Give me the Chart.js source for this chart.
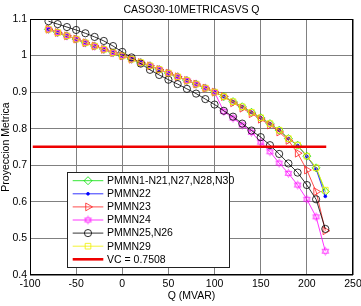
<!DOCTYPE html>
<html><head><meta charset="utf-8">
<script src="https://cdn.jsdelivr.net/npm/chart.js@4.4.0/dist/chart.umd.min.js"></script>
<style>html,body{margin:0;padding:0;background:#fff;}#wrap{width:361px;height:306px;}</style>
</head><body><div id="wrap"><canvas id="c" width="361" height="306"></canvas></div>
<script>
const TITLE = 'CASO30-10METRICASVS Q';
const X_LABEL = 'Q (MVAR)';
const Y_LABEL = 'Proyeccion Metrica';
const X_TICKS = [-100, -50, 0, 50, 100, 150, 200, 250];
const Y_TICKS = [0.4, 0.5, 0.6, 0.7, 0.8, 0.9, 1.0, 1.1];
const Q = [-80,-70,-60,-50,-40,-30,-20,-10,0,10,20,30,40,50,60,70,80,90,100,110,120,130,140,150,160,170,180,190,200,210,220];
const SERIES_NAMES = ['PMMN1-N21,N27,N28,N30','PMMN22','PMMN23','PMMN24','PMMN25,N26','PMMN29'];
const pmmn1 = [1.072,1.063,1.054,1.045,1.035,1.026,1.017,1.008,0.999,0.990,0.981,0.972,0.962,0.952,0.942,0.932,0.922,0.911,0.900,0.888,0.874,0.860,0.845,0.830,0.814,0.796,0.773,0.755,0.725,0.693,0.628];
const pmmn22 = [1.072,1.063,1.054,1.045,1.035,1.026,1.017,1.008,0.999,0.990,0.981,0.972,0.962,0.952,0.942,0.932,0.922,0.911,0.900,0.888,0.874,0.860,0.845,0.830,0.814,0.796,0.773,0.754,0.724,0.690,0.615];
const pmmn23 = [1.072,1.063,1.054,1.045,1.035,1.026,1.017,1.008,0.999,0.990,0.981,0.972,0.962,0.952,0.942,0.932,0.922,0.911,0.900,0.888,0.871,0.856,0.841,0.826,0.810,0.791,0.768,0.733,0.687,0.628,0.521];
const pmmn24 = [1.072,1.063,1.054,1.045,1.035,1.026,1.017,1.008,0.999,0.990,0.981,0.972,0.962,0.952,0.942,0.932,0.922,0.911,0.900,0.847,0.829,0.810,0.790,0.763,0.737,0.706,0.678,0.646,0.607,0.559,0.465];
const pmmn25 = [1.094,1.086,1.078,1.070,1.061,1.051,1.040,1.026,1.010,0.995,0.978,0.961,0.947,0.934,0.922,0.909,0.896,0.881,0.866,0.849,0.833,0.814,0.795,0.777,0.755,0.731,0.705,0.680,0.646,0.607,0.526];
const pmmn29 = [1.072,1.063,1.054,1.045,1.035,1.026,1.017,1.008,0.999,0.990,0.981,0.972,0.962,0.952,0.942,0.932,0.922,0.911,0.900,0.888,0.874,0.860,0.845,0.830,0.814,0.796,0.773,0.755,0.725,0.693,0.632];
const VC_VALUE = 0.7508;
const VC_LABEL = 'VC = 0.7508';
const VC_Q = [-97, 221];

const FONT = 'Liberation Sans, Arial, sans-serif';

// hexagram marker
function hexagram(color){
  const s = 11, cv = document.createElement('canvas');
  cv.width = s; cv.height = s;
  const c = cv.getContext('2d');
  c.strokeStyle = color; c.lineWidth = 0.6;
  const cx = s/2, cy = s/2, r = 4.0;
  for (const off of [-Math.PI/2, Math.PI/2]) {
    c.beginPath();
    for (let k=0;k<3;k++){
      const a = off + k*2*Math.PI/3;
      const px = cx + r*Math.cos(a), py = cy + r*Math.sin(a);
      if(k===0) c.moveTo(px,py); else c.lineTo(px,py);
    }
    c.closePath(); c.stroke();
  }
  return cv;
}
const star = hexagram('#ff00ff');

const pts = v => Q.map((q,i)=>({x:q,y:v[i]}));
const styles = [
  {data:pmmn1, color:'#00e000', pointStyle:'rectRot', radius:4, fill:false, rot:0},
  {data:pmmn22, color:'#0000ff', pointStyle:'circle', radius:1.4, fill:true, rot:0},
  {data:pmmn23, color:'#ff2020', pointStyle:'triangle', radius:4.5, fill:false, rot:90},
  {data:pmmn24, color:'#ff00ff', pointStyle:star, radius:4, fill:false, rot:0},
  {data:pmmn25, color:'#000000', pointStyle:'circle', radius:3.6, fill:false, rot:0},
  {data:pmmn29, color:'#f0f000', pointStyle:'rect', radius:4, fill:false, rot:0},
];
const datasets = styles.map((s,i)=>({
  label: SERIES_NAMES[i],
  data: pts(s.data),
  borderColor: s.color,
  borderWidth: 0.8,
  pointStyle: s.pointStyle,
  pointRadius: s.radius,
  pointRotation: s.rot,
  pointBorderColor: s.color,
  pointBorderWidth: 0.8,
  pointBackgroundColor: s.fill ? s.color : 'rgba(0,0,0,0)',
  order: -i,
  tension: 0
}));
datasets.push({
  label: VC_LABEL,
  data: VC_Q.map(q=>({x:q,y:VC_VALUE})),
  borderColor:'#ee0000', borderWidth:2.6, pointRadius:0, order:-10
});

const decor = {
  id:'decor',
  afterDraw(chart){
    const ctx = chart.ctx, a = chart.chartArea;
    ctx.save();
    // title
    ctx.fillStyle = '#000';
    ctx.font = '10.5px ' + FONT;
    ctx.textAlign = 'center'; ctx.textBaseline = 'middle';
    ctx.fillText(TITLE, (a.left+a.right)/2, 10.5);
    // box
    ctx.strokeStyle = '#000'; ctx.lineWidth = 1;
    ctx.strokeRect(a.left+0.5, a.top+0.5, a.right-a.left-1, a.bottom-a.top-1);
    // legend
    const lx = 67.5, ly = 172.5, lw = 162, lh = 95;
    ctx.fillStyle = '#fff'; ctx.fillRect(lx, ly, lw, lh);
    ctx.strokeStyle = '#222'; ctx.lineWidth = 1; ctx.strokeRect(lx, ly, lw, lh);
    const rows = chart.data.datasets;
    rows.forEach((ds, i) => {
      const y = 180.7 + i*13.1;
      ctx.strokeStyle = ds.borderColor;
      ctx.lineWidth = ds.borderWidth;
      ctx.beginPath(); ctx.moveTo(72.7, y); ctx.lineTo(103.3, y); ctx.stroke();
      if (ds.pointRadius > 0) {
        ctx.save();
        ctx.fillStyle = ds.pointBackgroundColor;
        ctx.strokeStyle = ds.pointBorderColor;
        ctx.lineWidth = ds.pointBorderWidth;
        Chart.helpers.drawPoint(ctx, {
          pointStyle: ds.pointStyle, radius: ds.pointRadius, rotation: ds.pointRotation || 0,
          borderWidth: ds.pointBorderWidth
        }, 88, y);
        ctx.restore();
      }
      ctx.fillStyle = '#000';
      ctx.font = '10.5px ' + FONT;
      ctx.textAlign = 'left'; ctx.textBaseline = 'middle';
      ctx.fillText(ds.label, 107, y + 0.5);
    });
    ctx.restore();
  }
};

new Chart(document.getElementById('c'), {
  type:'line',
  data:{datasets},
  options:{
    responsive:false, animation:false, devicePixelRatio:1,
    layout:{padding:{left:0,right:8,top:19,bottom:0}},
    plugins:{legend:{display:false}, title:{display:false}, tooltip:{enabled:false}},
    scales:{
      x:{type:'linear', min:-100, max:250,
        afterBuildTicks(s){ s.ticks = X_TICKS.map(v=>({value:v})); },
        afterFit(s){ s.height = 31; s.paddingLeft=0; s.paddingRight=0; },
        grid:{color:'#808080', lineWidth:1, drawTicks:false},
        border:{display:false},
        ticks:{padding:3, color:'#000', font:{family:FONT, size:10.5}, maxRotation:0, autoSkip:false},
        title:{display:true, text:X_LABEL, color:'#000', font:{family:FONT,size:10.5}, padding:{top:0,bottom:3.7}}
      },
      y:{type:'linear', min:0.4, max:1.1,
        afterBuildTicks(s){ s.ticks = Y_TICKS.map(v=>({value:v})); },
        afterFit(s){ s.width = 30; s.paddingTop=0; s.paddingBottom=0; },
        grid:{color:'#808080', lineWidth:1, drawTicks:false},
        border:{display:false},
        ticks:{padding:3, color:'#000', font:{family:FONT, size:10.5}, autoSkip:false,
          callback:(v)=>String(Math.round(v*10)/10)},
        title:{display:true, text:Y_LABEL, color:'#000', font:{family:FONT,size:10.5}, padding:{top:0,bottom:0}}
      }
    }
  },
  plugins:[decor]
});
</script></body></html>
